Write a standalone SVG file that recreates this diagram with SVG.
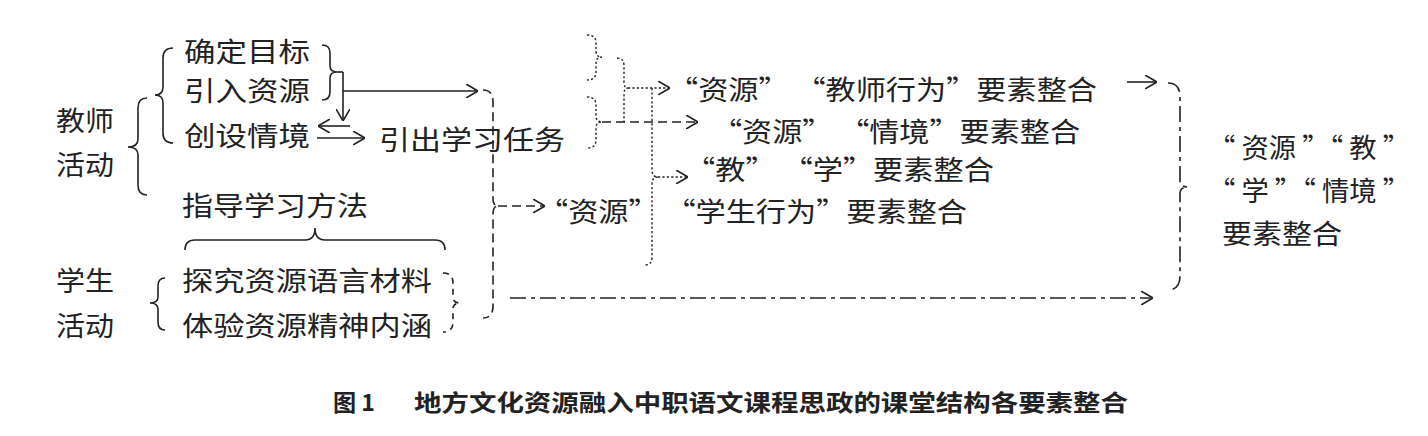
<svg xmlns="http://www.w3.org/2000/svg" width="1428" height="436" viewBox="0 0 1428 436">
<style>
.t{font-family:"Noto Sans CJK SC","Noto Sans CJK JP",sans-serif;font-size:27px;fill:#222;}
.cap{font-family:"Noto Sans CJK SC","Noto Sans CJK JP",sans-serif;font-size:23px;font-weight:700;fill:#222;}
.ln{fill:none;stroke:#222;stroke-width:1.6;}
.dot{stroke-dasharray:2.2 2.2;stroke-width:1.4;}
.dash{stroke-dasharray:9 5;}
.sdash{stroke-dasharray:6 5;}
.dd{stroke-dasharray:16 5 4 5;}
</style>
<defs>
<marker id="ah" markerUnits="userSpaceOnUse" viewBox="0 0 12 14" refX="12" refY="7" markerWidth="12" markerHeight="14" orient="auto">
<path d="M0,0 L12,7 L0,14" fill="none" stroke="#222" stroke-width="1.6" stroke-dasharray="none"/>
</marker>
</defs>
<rect width="1428" height="436" fill="#fff"/>

<g id="teacher-label"><text class="t" x="56" y="131" textLength="58" lengthAdjust="spacingAndGlyphs">教师</text><text class="t" x="56" y="175" textLength="58" lengthAdjust="spacingAndGlyphs">活动</text></g>
<g id="n-goal"><text class="t" x="184" y="62" textLength="126" lengthAdjust="spacingAndGlyphs">确定目标</text></g>
<g id="n-resource"><text class="t" x="184" y="101" textLength="126" lengthAdjust="spacingAndGlyphs">引入资源</text></g>
<g id="n-situation"><text class="t" x="184" y="146" textLength="126" lengthAdjust="spacingAndGlyphs">创设情境</text></g>
<g id="n-task"><text class="t" x="379" y="150" textLength="186" lengthAdjust="spacingAndGlyphs">引出学习任务</text></g>
<g id="n-method"><text class="t" x="182" y="216" textLength="186" lengthAdjust="spacingAndGlyphs">指导学习方法</text></g>
<g id="student-label"><text class="t" x="56" y="291" textLength="58" lengthAdjust="spacingAndGlyphs">学生</text><text class="t" x="56" y="336" textLength="58" lengthAdjust="spacingAndGlyphs">活动</text></g>
<g id="n-explore"><text class="t" x="182" y="291" textLength="250" lengthAdjust="spacingAndGlyphs">探究资源语言材料</text></g>
<g id="n-experience"><text class="t" x="182" y="336" textLength="250" lengthAdjust="spacingAndGlyphs">体验资源精神内涵</text></g>
<g id="n-r1"><text class="t" x="668" y="100" textLength="429" lengthAdjust="spacingAndGlyphs">“资源” “教师行为”要素整合</text></g>
<g id="n-r2"><text class="t" x="712" y="142" textLength="368" lengthAdjust="spacingAndGlyphs">“资源” “情境”要素整合</text></g>
<g id="n-r3"><text class="t" x="685" y="180" textLength="309" lengthAdjust="spacingAndGlyphs">“教” “学”要素整合</text></g>
<g id="n-r4"><text class="t" x="538" y="222" textLength="429" lengthAdjust="spacingAndGlyphs">“资源” “学生行为”要素整合</text></g>
<g id="n-final"><text class="t" x="1208" y="158" textLength="202" lengthAdjust="spacingAndGlyphs">“ 资源 ”“ 教 ”</text><text class="t" x="1208" y="201" textLength="202" lengthAdjust="spacingAndGlyphs">“ 学 ”“ 情境 ”</text><text class="t" x="1222" y="244" textLength="120" lengthAdjust="spacingAndGlyphs">要素整合</text></g>

<g id="connectors">
<path class="ln" d="M173,48 Q163,48 163,58 L163,87 Q163,95 155,95 Q163,95 163,103 L163,133 Q163,143 173,143"/>
<path class="ln" d="M147,98 Q138,98 138,108 L138,139 Q138,147 128,147 Q138,147 138,155 L138,185 Q138,195 147,195"/>
<path class="ln" d="M165,278 Q158,278 158,286 L158,297 Q158,303 150,303 Q158,303 158,309 L158,322 Q158,330 165,330"/>
<path class="ln" d="M322,45 Q330,45 330,53 L330,66 Q330,72 337,72 Q330,72 330,78 L330,92 Q330,100 322,100"/>
<line class="ln" x1="337" y1="72" x2="343" y2="72"/>
<line class="ln" x1="343" y1="72" x2="343" y2="121" marker-end="url(#ah)"/>
<line class="ln" x1="343" y1="91" x2="478" y2="91" marker-end="url(#ah)"/>
<line class="ln" x1="350" y1="126" x2="318" y2="126" marker-end="url(#ah)"/>
<line class="ln" x1="317" y1="138" x2="365" y2="138" marker-end="url(#ah)"/>
<path class="ln" d="M185,250 Q185,240 195,240 L305,240 Q315,240 315,228 Q315,240 325,240 L435,240 Q445,240 445,250"/>
<path class="ln sdash" d="M443,273 Q453,273 453,283 L453,297 Q453,303 460,303 Q453,303 453,309 L453,322 Q453,332 443,332"/>
<path class="ln dash" d="M483,90 Q493,90 493,102 L493,198 Q493,206 498,206 Q493,206 493,214 L493,306 Q493,318 483,318"/>
<line class="ln dash" x1="498" y1="206" x2="545" y2="206" marker-end="url(#ah)"/>
<path class="ln dot" d="M587,35 Q596,35 596,43 L596,51 Q596,57 602,57 Q596,57 596,63 L596,72 Q596,80 587,80"/>
<path class="ln dot" d="M587,97 Q596,97 596,105 L596,116 Q596,122 602,122 Q596,122 596,128 L596,140 Q596,148 587,148"/>
<path class="ln dot" d="M617,58 Q624,58 624,66 L624,82 Q624,88 628,88 Q624,88 624,94 L624,122"/>
<line class="ln dot" x1="628" y1="88" x2="670" y2="88" marker-end="url(#ah)"/>
<line class="ln dash" x1="602" y1="122" x2="698" y2="122" marker-end="url(#ah)"/>
<path class="ln dot" d="M652,88 L652,170 Q652,177 658,177 Q652,177 652,184 L652,257 Q652,265 645,265"/>
<line class="ln dot" x1="658" y1="177" x2="688" y2="177" marker-end="url(#ah)"/>
<line class="ln dd" x1="510" y1="298" x2="1153" y2="298" marker-end="url(#ah)"/>
<line class="ln" x1="1127" y1="82" x2="1157" y2="82" marker-end="url(#ah)"/>
<path class="ln dd" d="M1168,83 Q1180,83 1180,97 L1180,180 Q1180,187 1188,187 Q1180,187 1180,194 L1180,276 Q1180,290 1168,290"/>
</g>

<g id="caption">
<text class="cap" x="333" y="411" textLength="42" lengthAdjust="spacingAndGlyphs">图 1</text>
<text class="cap" x="414" y="411" textLength="714" lengthAdjust="spacingAndGlyphs">地方文化资源融入中职语文课程思政的课堂结构各要素整合</text>
</g>
</svg>
